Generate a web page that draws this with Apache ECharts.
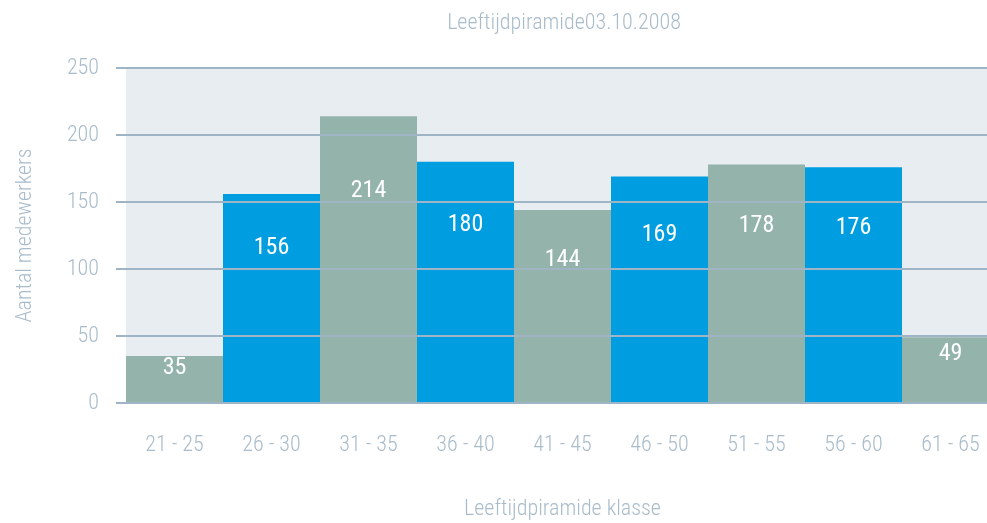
<!DOCTYPE html>
<html>
<head>
<meta charset="utf-8">
<script src="https://cdn.jsdelivr.net/npm/echarts@6/dist/echarts.min.js"></script>
<style>
html,body{margin:0;padding:0;background:#fff;}
#chart{width:987px;height:523px;}
</style>
</head>
<body>
<div id="chart"></div>
<script>
const titleText = 'Leeftijdpiramide03.10.2008';
const xAxisName = 'Leeftijdpiramide klasse';
const yAxisName = 'Aantal medewerkers';
const categories = ['21 - 25','26 - 30','31 - 35','36 - 40','41 - 45','46 - 50','51 - 55','56 - 60','61 - 65'];
const values = [35, 156, 214, 180, 144, 169, 178, 176, 49];
const yTicks = [0, 50, 100, 150, 200, 250];

const FONT = "'Roboto Condensed', 'Roboto', sans-serif";
const W = 300;
const TXT = '#a9bccb';
const GRID = '#9fb4c5';
const GREEN = '#94b3ab';
const BLUE = '#009ee0';

const chart = echarts.init(document.getElementById('chart'));
chart.setOption({
  animation: false,
  backgroundColor: '#ffffff',
  textStyle: { fontFamily: FONT, fontWeight: W },
  title: {
    text: titleText,
    left: 564,
    top: 12,
    padding: 0,
    textAlign: 'center',
    textStyle: { fontFamily: FONT, fontSize: 22, fontWeight: W, color: TXT }
  },
  grid: {
    left: 126, top: 68, width: 873, height: 335,
    outerBoundsMode: 'none',
    containLabel: false,
    show: true, backgroundColor: '#e8edf1', borderWidth: 0
  },
  xAxis: {
    type: 'category',
    data: categories,
    name: xAxisName,
    nameLocation: 'middle',
    nameGap: 95,
    nameTextStyle: { fontFamily: FONT, fontSize: 22, fontWeight: W, color: TXT },
    axisLine: { show: false },
    axisTick: { show: false },
    axisLabel: { margin: 31, fontFamily: FONT, fontSize: 22, fontWeight: W, color: TXT },
    splitLine: { show: false }
  },
  yAxis: {
    type: 'value',
    min: yTicks[0],
    max: yTicks[yTicks.length - 1],
    interval: yTicks[1] - yTicks[0],
    z: 3,
    name: yAxisName,
    nameLocation: 'middle',
    nameGap: 90,
    nameTextStyle: { fontFamily: FONT, fontSize: 22, fontWeight: W, color: TXT },
    axisLine: { show: false },
    axisTick: { show: true, length: 10, lineStyle: { color: GRID, width: 2 } },
    axisLabel: { margin: 27, fontFamily: FONT, fontSize: 22, fontWeight: W, color: TXT },
    splitLine: { show: true, lineStyle: { color: GRID, width: 2 } }
  },
  series: [{
    type: 'bar',
    data: values,
    barCategoryGap: '0%',
    itemStyle: {
      color: function (p) { return p.dataIndex % 2 === 0 ? GREEN : BLUE; }
    },
    label: {
      show: true,
      position: ['50%', '26%'],
      align: 'center',
      verticalAlign: 'middle',
      color: '#ffffff',
      fontFamily: FONT,
      fontWeight: 'normal',
      fontSize: 24
    }
  }]
});
</script>
</body>
</html>
